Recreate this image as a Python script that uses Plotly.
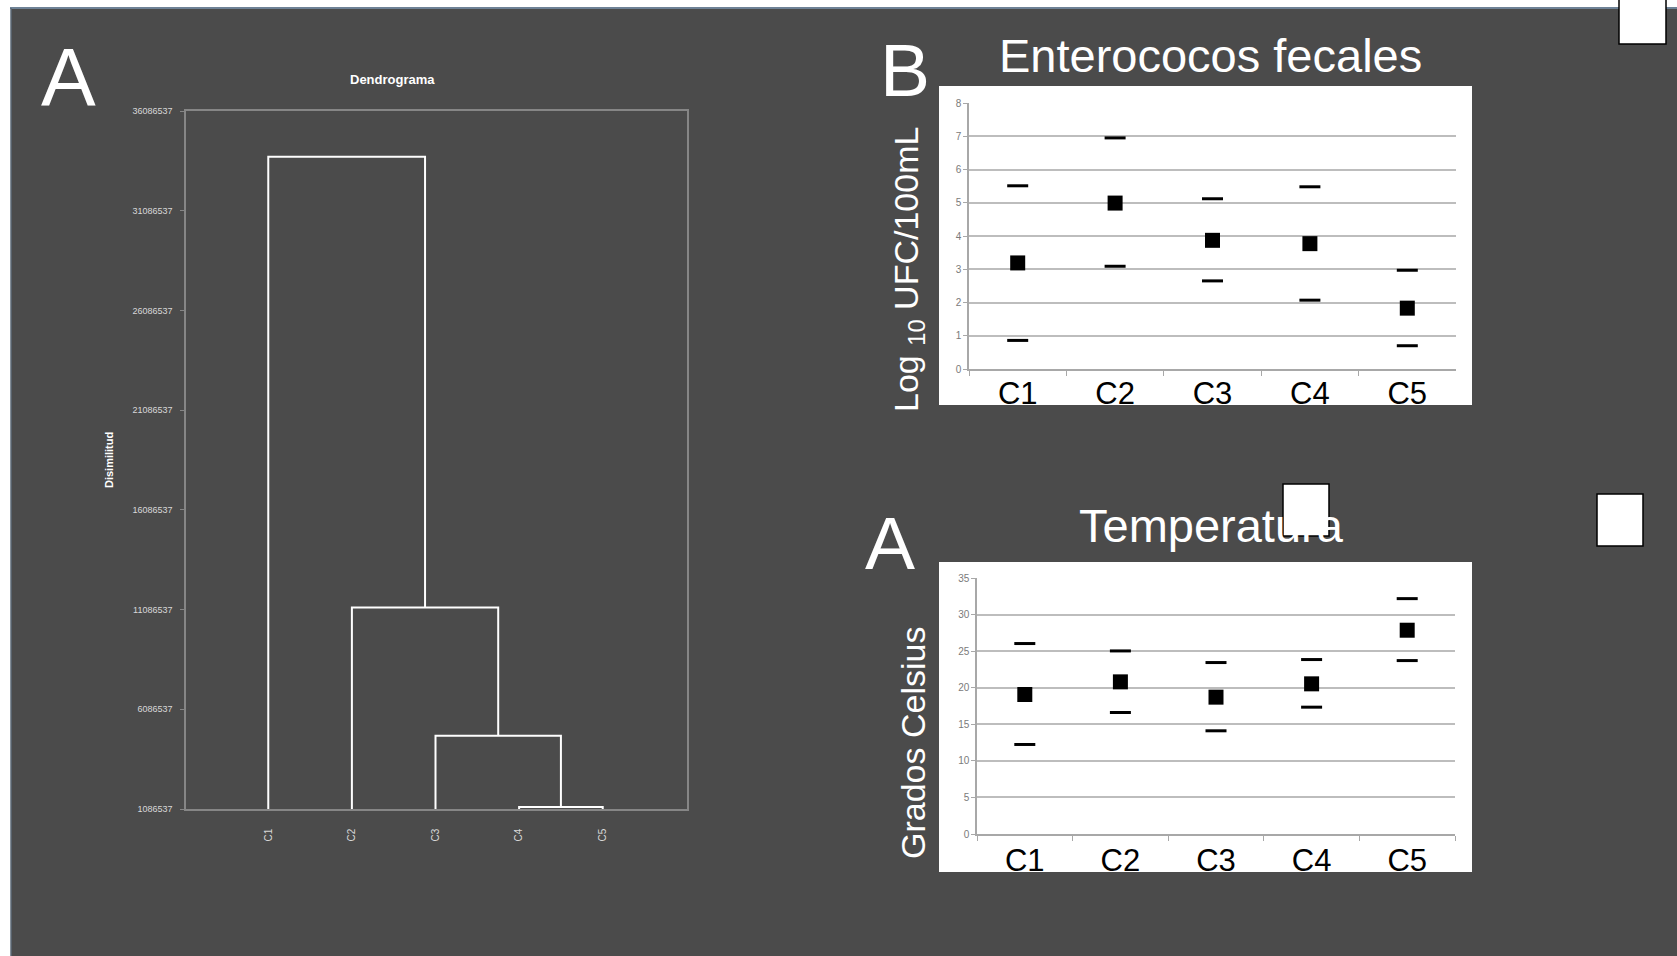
import plotly.graph_objects as go

W, H = 1677, 956
FONT = "Liberation Sans, Arial, sans-serif"

# ---------------- data ----------------
categories = ["C1", "C2", "C3", "C4", "C5"]
ent_mean = [3.19, 4.99, 3.87, 3.77, 1.83]
ent_upper = [5.51, 6.95, 5.12, 5.48, 2.97]
ent_lower = [0.86, 3.09, 2.65, 2.07, 0.70]
ent_yticks = [0, 1, 2, 3, 4, 5, 6, 7, 8]

temp_mean = [19.07, 20.80, 18.71, 20.53, 27.86]
temp_upper = [26.04, 25.03, 23.44, 23.85, 32.18]
temp_lower = [12.24, 16.61, 14.11, 17.34, 23.71]
temp_yticks = [0, 5, 10, 15, 20, 25, 30, 35]

dendro_leaves = ["C1", "C2", "C3", "C4", "C5"]
# (node a, node b, height) ; leaves are 0..4, new clusters numbered from 5
dendro_merges = [(3, 4, 1190000), (2, 5, 4760000), (1, 6, 11190000), (0, 7, 33790000)]
dendro_yticks = [1086537, 6086537, 11086537, 16086537, 21086537, 26086537, 31086537, 36086537]


def fx(px):
    return px / W


def fy(py):
    return 1 - py / H


fig = go.Figure()

# ---------------- dendrogram ----------------
ybase = dendro_yticks[0]
node_x = {i: i + 1 for i in range(len(dendro_leaves))}
node_y = {i: ybase for i in range(len(dendro_leaves))}
dx, dy = [], []
for k, (a, b, h) in enumerate(dendro_merges):
    dx += [node_x[a], node_x[a], node_x[b], node_x[b], None]
    dy += [node_y[a], h, h, node_y[b], None]
    nid = len(dendro_leaves) + k
    node_x[nid] = (node_x[a] + node_x[b]) / 2
    node_y[nid] = h
fig.add_trace(go.Scatter(x=dx, y=dy, mode="lines", line=dict(color="white", width=2),
                         xaxis="x", yaxis="y", hoverinfo="skip", showlegend=False))


# ---------------- Enterococos / Temperatura ----------------
def add_panel(xa, ya, mean, up, lo):
    fig.add_trace(go.Scatter(x=categories, y=up, mode="markers", xaxis=xa, yaxis=ya,
                             marker=dict(symbol="line-ew", size=15, line=dict(color="black", width=3)),
                             showlegend=False))
    fig.add_trace(go.Scatter(x=categories, y=lo, mode="markers", xaxis=xa, yaxis=ya,
                             marker=dict(symbol="line-ew", size=15, line=dict(color="black", width=3)),
                             showlegend=False))
    fig.add_trace(go.Scatter(x=categories, y=mean, mode="markers", xaxis=xa, yaxis=ya,
                             marker=dict(symbol="square", size=15, color="black"),
                             showlegend=False))


add_panel("x2", "y2", ent_mean, ent_upper, ent_lower)
add_panel("x3", "y3", temp_mean, temp_upper, temp_lower)

# ---------------- shapes ----------------
shapes = [
    dict(type="rect", xref="paper", yref="paper", x0=fx(11), x1=1, y0=fy(8), y1=0,
         fillcolor="#4b4b4b", line=dict(width=0), layer="below"),
    dict(type="line", xref="paper", yref="paper", x0=fx(10), x1=1, y0=fy(8), y1=fy(8),
         line=dict(color="#6e8296", width=2), layer="below"),
    dict(type="line", xref="paper", yref="paper", x0=fx(11), x1=fx(11), y0=fy(8), y1=0,
         line=dict(color="#5b6876", width=1.5), layer="below"),
    dict(type="rect", xref="paper", yref="paper", x0=fx(939), x1=fx(1472), y0=fy(86), y1=fy(405),
         fillcolor="white", line=dict(width=0), layer="below"),
    dict(type="rect", xref="paper", yref="paper", x0=fx(939), x1=fx(1472), y0=fy(562), y1=fy(872),
         fillcolor="white", line=dict(width=0), layer="below"),
]
for (x0, y0, x1, y1) in [(1619, -3, 1666, 44), (1283, 484, 1329, 536), (1597, 494, 1643, 546)]:
    shapes.append(dict(type="rect", xref="paper", yref="paper", x0=fx(x0), x1=fx(x1), y0=fy(y0), y1=fy(y1),
                       fillcolor="white", line=dict(color="black", width=1.5), layer="above"))


# ---------------- annotations ----------------
def ann(text, x, y, size, angle=0, bold=False):
    return dict(text=f"<b>{text}</b>" if bold else text, x=fx(x), y=fy(y), xref="paper", yref="paper",
                showarrow=False, xanchor="center", yanchor="middle", textangle=angle,
                font=dict(family=FONT, size=size, color="white"))


annotations = [
    ann("A", 68, 76, 82),
    ann("Dendrograma", 392, 79, 13, bold=True),
    ann("Disimilitud", 109, 460, 11, angle=-90, bold=True),
    ann("B", 905, 70, 75),
    ann("Enterococos fecales", 1210, 55, 47),
    ann("Log <sub>10</sub> UFC/100mL", 908, 270, 34, angle=-90),
    ann("A", 890, 543, 75),
    ann("Temperatura", 1211, 525, 47),
    ann("Grados Celsius", 913, 743, 34, angle=-90),
]

grid_col = "#bdbdbd"
axis_col = "#a8a8a8"

fig.update_layout(
    width=W, height=H, margin=dict(l=0, r=0, t=0, b=0, autoexpand=False),
    paper_bgcolor="white", plot_bgcolor="rgba(0,0,0,0)",
    shapes=shapes, annotations=annotations, showlegend=False,
    font=dict(family=FONT),
    xaxis=dict(domain=[fx(186), fx(687)], range=[0.016, 6.008], tickvals=[1, 2, 3, 4, 5],
               ticktext=dendro_leaves, tickangle=-90, ticks="", ticklabelstandoff=14,
               tickfont=dict(size=10, color="#d8d8d8", family=FONT), automargin=False,
               showgrid=False, zeroline=False, showline=True, mirror=True,
               linecolor="#868686", linewidth=1.5, anchor="y"),
    yaxis=dict(domain=[fy(809), fy(111)], range=[dendro_yticks[0], dendro_yticks[-1]],
               tickvals=dendro_yticks, ticktext=[str(v) for v in dendro_yticks],
               ticks="outside", ticklen=4, tickcolor="#868686", ticklabelstandoff=6,
               tickfont=dict(size=9, color="#d8d8d8", family=FONT), automargin=False,
               showgrid=False, zeroline=False, showline=True, mirror=True,
               linecolor="#868686", linewidth=1.5, anchor="x"),
    xaxis2=dict(domain=[fx(969), fx(1456)], type="category", range=[-0.5, 4.5],
                tickson="boundaries", ticks="outside", ticklen=5, tickcolor=axis_col,
                tickfont=dict(size=31, color="black", family=FONT), ticklabelstandoff=-4,
                automargin=False,
                showgrid=False, zeroline=False, showline=True, linecolor=axis_col, linewidth=1.5,
                anchor="y2"),
    yaxis2=dict(domain=[fy(369), fy(103)], range=[0, 8], tickvals=ent_yticks,
                ticks="outside", ticklen=4, tickcolor=axis_col, automargin=False,
                tickfont=dict(size=10, color="#7a7a7a", family=FONT),
                showgrid=True, gridcolor=grid_col, gridwidth=1.5, zeroline=False,
                showline=True, linecolor=axis_col, linewidth=1.5, anchor="x2"),
    xaxis3=dict(domain=[fx(977), fx(1455)], type="category", range=[-0.5, 4.5],
                tickson="boundaries", ticks="outside", ticklen=5, tickcolor=axis_col,
                tickfont=dict(size=31, color="black", family=FONT), ticklabelstandoff=-2,
                automargin=False,
                showgrid=False, zeroline=False, showline=True, linecolor=axis_col, linewidth=1.5,
                anchor="y3"),
    yaxis3=dict(domain=[fy(834), fy(578)], range=[0, 35], tickvals=temp_yticks,
                ticks="outside", ticklen=4, tickcolor=axis_col, automargin=False,
                tickfont=dict(size=10, color="#7a7a7a", family=FONT),
                showgrid=True, gridcolor=grid_col, gridwidth=1.5, zeroline=False,
                showline=True, linecolor=axis_col, linewidth=1.5, anchor="x3"),
)

fig.write_html("out.html")
